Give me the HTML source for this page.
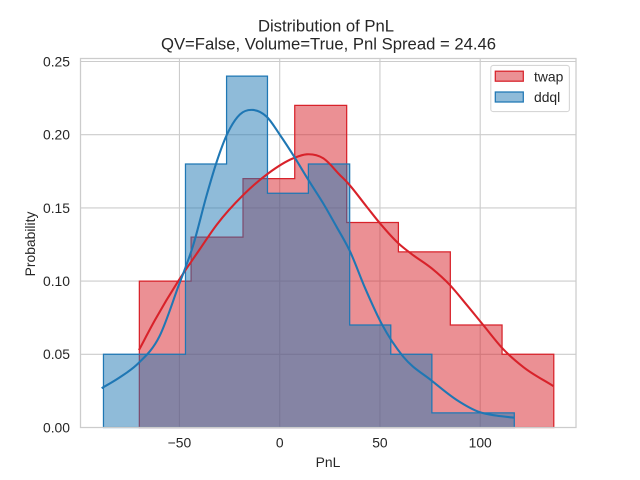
<!DOCTYPE html>
<html>
<head>
<meta charset="utf-8">
<title>Distribution of PnL</title>
<style>
html,body{margin:0;padding:0;background:#fff;}
svg{display:block;}
text{font-family:"Liberation Sans",Arial,sans-serif;fill:#262626;}
</style>
</head>
<body>
<svg id="chart" xmlns="http://www.w3.org/2000/svg" width="640" height="480" viewBox="0 0 640 480">
  <rect x="0" y="0" width="640" height="480" fill="#ffffff"/>
  <g id="grid"></g>
  <g id="marks"></g>
  <g id="kde"></g>
  <rect x="80.5" y="58.5" width="495.5" height="369" fill="none" stroke="#cccccc" stroke-width="1.25"/>
  <g id="ticks"></g>
  <text x="326" y="31.7" font-size="16.67" text-anchor="middle">Distribution of PnL</text>
  <text x="328.5" y="49.3" font-size="16.67" text-anchor="middle">QV=False, Volume=True, Pnl Spread = 24.46</text>
  <text x="328" y="467" font-size="13.89" text-anchor="middle">PnL</text>
  <text transform="translate(35,244) rotate(-90)" font-size="13.89" text-anchor="middle">Probability</text>
  <g>
    <rect x="490.8" y="65.4" width="78.6" height="46.2" rx="2.5" fill="#ffffff" fill-opacity="0.8" stroke="#cccccc" stroke-opacity="0.8" stroke-width="1.1"/>
    <rect x="495.3" y="71.2" width="28" height="10" fill="#d8222a" fill-opacity="0.5" stroke="#d8222a" stroke-width="1.25"/>
    <text x="534" y="81.5" font-size="13.89">twap</text>
    <rect x="495.3" y="92" width="28" height="10" fill="#1f77b4" fill-opacity="0.5" stroke="#1f77b4" stroke-width="1.25"/>
    <text x="534" y="102" font-size="13.89">ddql</text>
  </g>
</svg>
<script>
var xTicks = [-50, 0, 50, 100];
var yTicks = [0, 0.05, 0.10, 0.15, 0.20, 0.25];
var twapEdges = [-70, -44.2, -18.3, 7.5, 33.4, 59.2, 85.1, 110.9, 136.7];
var twapValues = [0.10, 0.13, 0.17, 0.22, 0.14, 0.12, 0.07, 0.05];
var ddqlEdges = [-87.9, -67.4, -47, -26.5, -6.1, 14.3, 34.9, 55.4, 75.9, 96.4, 117];
var ddqlValues = [0.05, 0.05, 0.18, 0.24, 0.16, 0.18, 0.07, 0.05, 0.01, 0.01];
var twapKdeX = [-70.2, -62.2, -50.6, -40, -31.4, -18.2, -5.7, 6.8, 13.5, 21.7, 30, 33.5, 43.4, 50, 59.2, 65.8, 75.8, 84.9, 93.3, 101.5, 111.5, 121.5, 136.5];
var twapKdeY = [0.0529, 0.0734, 0.1, 0.1215, 0.1385, 0.1588, 0.1736, 0.1839, 0.1866, 0.1839, 0.1725, 0.1677, 0.1508, 0.1395, 0.1258, 0.1185, 0.1087, 0.0973, 0.0837, 0.07, 0.0535, 0.0413, 0.0283];
var ddqlKdeX = [-88.8, -79.7, -70.5, -60, -50.6, -43.1, -36.4, -31.4, -26.4, -19.8, -13.2, -6.5, 0.15, 7, 14.3, 21.7, 28.4, 35, 42.5, 50.9, 61.6, 75.8, 88.3, 99.9, 108.2, 117];
var ddqlKdeY = [0.0268, 0.0343, 0.0439, 0.0622, 0.0962, 0.1247, 0.1588, 0.1816, 0.1998, 0.2139, 0.2169, 0.2123, 0.1998, 0.1855, 0.1691, 0.1531, 0.137, 0.1205, 0.0955, 0.0707, 0.0484, 0.032, 0.0188, 0.0104, 0.0081, 0.0067];

var NS = 'http://www.w3.org/2000/svg';
var RED = '#d8222a';
var BLUE = '#1f77b4';
function xScale(v) { return 279.7 + 2.005 * v; }
function yScale(v) { return 427.5 - 1464 * v; }
function make(tag, parent) {
  var el = document.createElementNS(NS, tag);
  document.getElementById(parent).appendChild(el);
  return el;
}
function stepPath(edges, values) {
  var d = 'M' + xScale(edges[0]) + ' ' + yScale(0);
  for (var i = 0; i < values.length; i++) {
    d += 'L' + xScale(edges[i]) + ' ' + yScale(values[i]);
    d += 'L' + xScale(edges[i + 1]) + ' ' + yScale(values[i]);
  }
  d += 'L' + xScale(edges[edges.length - 1]) + ' ' + yScale(0) + 'Z';
  return d;
}
function smoothPath(xs, ys) {
  var px = xs.map(xScale), py = ys.map(yScale), n = px.length, m = [];
  for (var i = 0; i < n; i++) {
    if (i === 0) { m.push((py[1] - py[0]) / (px[1] - px[0])); continue; }
    if (i === n - 1) { m.push((py[i] - py[i - 1]) / (px[i] - px[i - 1])); continue; }
    var h0 = px[i] - px[i - 1], h1 = px[i + 1] - px[i];
    var s0 = (py[i] - py[i - 1]) / h0, s1 = (py[i + 1] - py[i]) / h1;
    m.push((s0 * h1 + s1 * h0) / (h0 + h1));
  }
  var d = 'M' + px[0] + ' ' + py[0];
  for (var j = 0; j < n - 1; j++) {
    var h = (px[j + 1] - px[j]) / 3;
    d += 'C' + (px[j] + h) + ' ' + (py[j] + m[j] * h) + ' ' +
      (px[j + 1] - h) + ' ' + (py[j + 1] - m[j + 1] * h) + ' ' + px[j + 1] + ' ' + py[j + 1];
  }
  return d;
}

xTicks.forEach(function (t) {
  var line = make('line', 'grid');
  
  
  line.setAttribute('x1', xScale(t));
  line.setAttribute('x2', xScale(t));
  line.setAttribute('y1', 58.5);
  line.setAttribute('y2', 427.5);
  line.setAttribute('stroke', '#cccccc');
  line.setAttribute('stroke-width', 1.1);
  var label = make('text', 'ticks');
  
  
  label.setAttribute('x', xScale(t));
  label.setAttribute('y', 447.7);
  label.setAttribute('font-size', 13.89);
  label.setAttribute('text-anchor', 'middle');
  label.textContent = String(t).replace('-', '\u2212');
});
yTicks.forEach(function (t) {
  var line = make('line', 'grid');
  
  
  line.setAttribute('x1', 80.5);
  line.setAttribute('x2', 576);
  line.setAttribute('y1', yScale(t));
  line.setAttribute('y2', yScale(t));
  line.setAttribute('stroke', '#cccccc');
  line.setAttribute('stroke-width', 1.1);
  var label = make('text', 'ticks');
  
  
  label.setAttribute('x', 70);
  label.setAttribute('y', yScale(t) + 4.9);
  label.setAttribute('font-size', 13.89);
  label.setAttribute('text-anchor', 'end');
  label.textContent = t.toFixed(2);
});

var twapHist = make('path', 'marks');


twapHist.setAttribute('d', stepPath(twapEdges, twapValues));
twapHist.setAttribute('fill', RED);
twapHist.setAttribute('fill-opacity', 0.5);
twapHist.setAttribute('stroke', RED);
twapHist.setAttribute('stroke-width', 1.25);

var ddqlHist = make('path', 'marks');


ddqlHist.setAttribute('d', stepPath(ddqlEdges, ddqlValues));
ddqlHist.setAttribute('fill', BLUE);
ddqlHist.setAttribute('fill-opacity', 0.5);
ddqlHist.setAttribute('stroke', BLUE);
ddqlHist.setAttribute('stroke-width', 1.25);

var twapKde = make('path', 'kde');


twapKde.setAttribute('d', smoothPath(twapKdeX, twapKdeY));
twapKde.setAttribute('fill', 'none');
twapKde.setAttribute('stroke', RED);
twapKde.setAttribute('stroke-width', 2.08);

var ddqlKde = make('path', 'kde');


ddqlKde.setAttribute('d', smoothPath(ddqlKdeX, ddqlKdeY));
ddqlKde.setAttribute('fill', 'none');
ddqlKde.setAttribute('stroke', BLUE);
ddqlKde.setAttribute('stroke-width', 2.08);
</script>
</body>
</html>
